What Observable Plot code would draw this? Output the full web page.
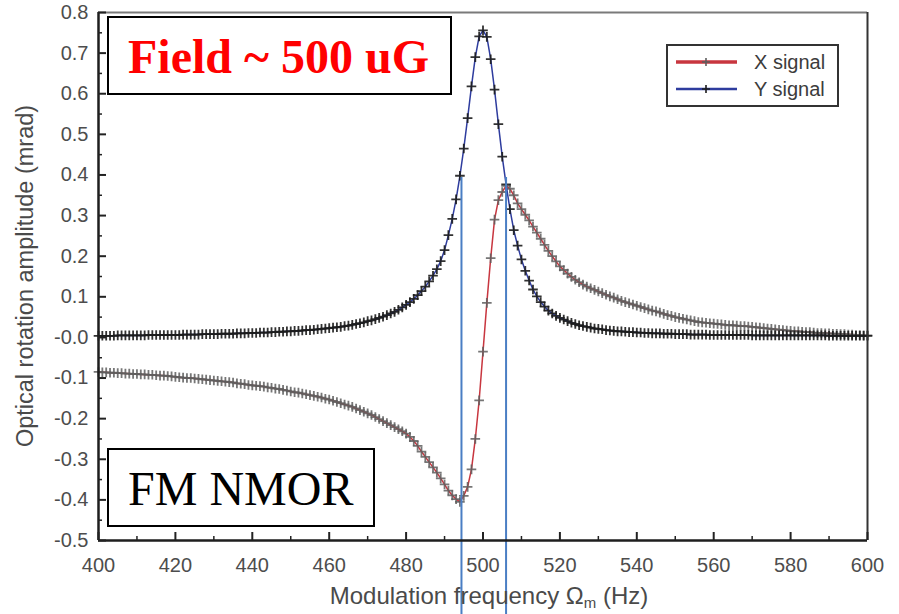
<!DOCTYPE html>
<html><head><meta charset="utf-8">
<script src="https://cdn.jsdelivr.net/npm/d3@7"></script>
<script src="https://cdn.jsdelivr.net/npm/@observablehq/plot@0.6"></script>
<style>
html,body{margin:0;padding:0;background:#fff;}
#wrap{position:relative;width:899px;height:614px;overflow:hidden;background:#fff;}
#wrap svg{position:absolute;left:0;top:0;}
.box{position:absolute;box-sizing:border-box;border:2px solid #000;background:#fff;}
.serif{position:absolute;font-family:"Liberation Serif","Times New Roman",serif;font-size:48px;line-height:48px;white-space:nowrap;}
.leg{position:absolute;box-sizing:border-box;border:2px solid #333;background:#fff;}
.legtxt{position:absolute;font-family:"Liberation Sans",Arial,sans-serif;font-size:20px;line-height:20px;color:#3c3c3c;white-space:nowrap;}
</style></head>
<body><div id="wrap"></div>
<script>
const freq = [400,401,402,403,404,405,406,407,408,409,410,411,412,413,414,415,416,417,418,419,
420,421,422,423,424,425,426,427,428,429,430,431,432,433,434,435,436,437,438,439,
440,441,442,443,444,445,446,447,448,449,450,451,452,453,454,455,456,457,458,459,
460,461,462,463,464,465,466,467,468,469,470,471,472,473,474,475,476,477,478,479,
480,481,482,483,484,485,486,487,488,489,490,491,492,493,494,495,496,497,498,499,
500,501,502,503,504,505,506,507,508,509,510,511,512,513,514,515,516,517,518,519,
520,521,522,523,524,525,526,527,528,529,530,531,532,533,534,535,536,537,538,539,
540,541,542,543,544,545,546,547,548,549,550,551,552,553,554,555,556,557,558,559,
560,561,562,563,564,565,566,567,568,569,570,571,572,573,574,575,576,577,578,579,
580,581,582,583,584,585,586,587,588,589,590,591,592,593,594,595,596,597,598,599,600];

const xSignal = [-0.085,-0.086,-0.086,-0.087,-0.087,-0.088,-0.088,-0.089,-0.089,-0.090,
-0.090,-0.091,-0.091,-0.092,-0.092,-0.093,-0.094,-0.094,-0.095,-0.096,
-0.097,-0.098,-0.099,-0.100,-0.100,-0.101,-0.102,-0.103,-0.104,-0.105,
-0.106,-0.107,-0.108,-0.109,-0.110,-0.111,-0.113,-0.114,-0.115,-0.117,
-0.118,-0.119,-0.120,-0.121,-0.123,-0.124,-0.126,-0.127,-0.129,-0.131,
-0.133,-0.135,-0.136,-0.138,-0.140,-0.142,-0.144,-0.146,-0.148,-0.151,
-0.153,-0.156,-0.159,-0.162,-0.165,-0.168,-0.171,-0.175,-0.179,-0.183,
-0.187,-0.191,-0.196,-0.201,-0.206,-0.211,-0.216,-0.221,-0.226,-0.231,
-0.237,-0.245,-0.255,-0.267,-0.281,-0.294,-0.307,-0.320,-0.333,-0.347,
-0.362,-0.377,-0.389,-0.398,-0.405,-0.390,-0.368,-0.325,-0.250,-0.155,
-0.035,0.085,0.195,0.290,0.338,0.358,0.373,0.366,0.350,0.330,
0.316,0.302,0.288,0.273,0.258,0.243,0.228,0.213,0.200,0.187,
0.175,0.166,0.157,0.149,0.142,0.136,0.130,0.125,0.121,0.117,
0.113,0.109,0.105,0.101,0.098,0.094,0.090,0.087,0.084,0.081,
0.078,0.075,0.072,0.069,0.066,0.064,0.061,0.058,0.055,0.053,
0.050,0.048,0.046,0.044,0.042,0.040,0.038,0.037,0.036,0.035,
0.034,0.033,0.032,0.031,0.030,0.030,0.029,0.028,0.028,0.027,
0.026,0.025,0.024,0.023,0.022,0.021,0.020,0.019,0.018,0.017,
0.016,0.015,0.015,0.014,0.013,0.013,0.012,0.011,0.011,0.010,
0.010,0.009,0.009,0.008,0.008,0.007,0.007,0.006,0.006,0.005,0.005];

const ySignal = [0.004,0.004,0.004,0.004,0.004,0.005,0.005,0.005,0.005,0.005,
0.005,0.005,0.005,0.006,0.006,0.006,0.006,0.006,0.006,0.006,
0.006,0.006,0.007,0.007,0.007,0.007,0.007,0.008,0.008,0.008,
0.008,0.008,0.009,0.009,0.009,0.009,0.010,0.010,0.010,0.011,
0.011,0.011,0.012,0.012,0.012,0.013,0.013,0.014,0.014,0.015,
0.015,0.016,0.016,0.017,0.018,0.018,0.019,0.020,0.021,0.022,
0.023,0.024,0.025,0.026,0.028,0.029,0.031,0.033,0.035,0.037,
0.040,0.042,0.045,0.048,0.051,0.055,0.059,0.063,0.068,0.074,
0.080,0.087,0.095,0.104,0.114,0.125,0.138,0.152,0.168,0.188,
0.215,0.252,0.292,0.340,0.398,0.465,0.540,0.618,0.690,0.741,
0.756,0.740,0.685,0.610,0.525,0.445,0.377,0.316,0.264,0.226,
0.192,0.164,0.140,0.118,0.101,0.087,0.076,0.066,0.059,0.053,
0.048,0.044,0.040,0.036,0.033,0.030,0.028,0.026,0.024,0.022,
0.021,0.020,0.018,0.017,0.016,0.015,0.015,0.014,0.013,0.013,
0.012,0.012,0.011,0.011,0.010,0.010,0.010,0.009,0.009,0.009,
0.008,0.008,0.008,0.008,0.007,0.007,0.007,0.007,0.007,0.006,
0.006,0.006,0.006,0.006,0.006,0.006,0.006,0.006,0.006,0.006,
0.005,0.005,0.005,0.005,0.005,0.005,0.005,0.005,0.005,0.005,
0.005,0.005,0.005,0.005,0.005,0.005,0.005,0.005,0.005,0.005,
0.004,0.004,0.004,0.004,0.004,0.004,0.004,0.004,0.004,0.004,0.004];

const xTicks = [400,420,440,460,480,500,520,540,560,580,600];
const xMinorTicks = [410,430,450,470,490,510,530,550,570,590];
const yTicks = [0.8,0.7,0.6,0.5,0.4,0.3,0.2,0.1,0,-0.1,-0.2,-0.3,-0.4,-0.5];
const yTickLabels = ["0.8","0.7","0.6","0.5","0.4","0.3","0.2","0.1","-0.0","-0.1","-0.2","-0.3","-0.4","-0.5"];
const yMinorTicks = [0.75,0.65,0.55,0.45,0.35,0.25,0.15,0.05,-0.05,-0.15,-0.25,-0.35,-0.45];
const guideFreqs = [494.4, 506.0];
const guideTop = 0.394;
const guideBottom = -2.4;
const seriesNames = ["X signal", "Y signal"];
const seriesColors = ["#c8363f", "#2e3c9e"];
const markerColors = ["#5e5e5e", "#1c1c1c"];
const xTitle = ["Modulation frequency Ω", "m", " (Hz)"];
const yTitle = "Optical rotation amplitude (mrad)";
const notes = ["Field ~ 500 uG", "FM NMOR"];

const xData = freq.map((f, i) => ({f, v: xSignal[i]}));
const yData = freq.map((f, i) => ({f, v: ySignal[i]}));
const labelOf = new Map(yTicks.map((t, i) => [t, yTickLabels[i]]));

const chart = Plot.plot({
  width: 899, height: 614,
  marginLeft: 98, marginRight: 32, marginTop: 12, marginBottom: 74,
  x: {domain: [400, 600]},
  y: {domain: [-0.5, 0.8]},
  style: {fontFamily: "'Liberation Sans', Arial, sans-serif", color: "#222", background: "transparent"},
  marks: [
    Plot.line(xData, {x: "f", y: "v", stroke: seriesColors[0], strokeWidth: 1.5}),
    Plot.dot(xData, {x: "f", y: "v", symbol: "plus", r: 3.2, stroke: markerColors[0], strokeWidth: 1.8, strokeOpacity: 0.85}),
    Plot.line(yData, {x: "f", y: "v", stroke: seriesColors[1], strokeWidth: 1.5}),
    Plot.dot(yData, {x: "f", y: "v", symbol: "plus", r: 3.2, stroke: markerColors[1], strokeWidth: 1.8, strokeOpacity: 0.9}),
    Plot.ruleX(guideFreqs, {y1: guideTop, y2: guideBottom, stroke: "#4a7ec4", strokeWidth: 2}),
    Plot.ruleY([0.8], {stroke: "#7a7a7a", strokeWidth: 2}),
    Plot.ruleX([600], {stroke: "#333", strokeWidth: 2}),
    Plot.ruleX([400], {stroke: "#1e1e1e", strokeWidth: 2.5}),
    Plot.ruleY([-0.5], {stroke: "#1e1e1e", strokeWidth: 2.5}),
    Plot.axisY(yTicks, {tickSize: 8, dx: 8, fill: "none", stroke: "#222", strokeWidth: 2, label: null}),
    Plot.axisY(yMinorTicks, {tickSize: 4, dx: 4, fill: "none", stroke: "#222", strokeWidth: 1.5, label: null}),
    Plot.axisX(xTicks, {tickSize: 8, dy: -8, fill: "none", stroke: "#222", strokeWidth: 2, label: null}),
    Plot.axisX(xMinorTicks, {tickSize: 4, dy: -4, fill: "none", stroke: "#222", strokeWidth: 1.5, label: null}),
    Plot.axisY(yTicks, {tickSize: 0, tickPadding: 10, tickFormat: d => labelOf.get(d), fontSize: 20, fill: "#4d4d4d", label: null}),
    Plot.axisX(xTicks, {tickSize: 0, tickPadding: 17, tickFormat: d => String(d), fontSize: 20, fill: "#4d4d4d", label: null})
  ]
});

const svg = d3.select(chart);
const xt = svg.append("text").attr("x", 489).attr("y", 604).attr("text-anchor", "middle")
  .attr("font-size", 24).attr("fill", "#4a4a4a");
xt.append("tspan").text(xTitle[0]);
xt.append("tspan").attr("font-size", 15).attr("dy", 4).text(xTitle[1]);
xt.append("tspan").attr("dy", -4).text(xTitle[2]);
svg.append("text").attr("transform", "translate(33,276) rotate(-90)").attr("text-anchor", "middle")
  .attr("font-size", 23.5).attr("fill", "#4a4a4a").text(yTitle);

const wrap = document.getElementById("wrap");
wrap.appendChild(chart);

function add(html) { wrap.insertAdjacentHTML("beforeend", html); }
// annotation boxes
add(`<div class="box" style="left:107px;top:16px;width:345px;height:79px"></div>`);
add(`<div class="serif" style="left:128px;top:33px;color:#ff0000;font-weight:bold">${notes[0]}</div>`);
add(`<div class="box" style="left:107px;top:448px;width:268px;height:79px"></div>`);
add(`<div class="serif" style="left:128px;top:465px;color:#000">${notes[1]}</div>`);
// legend
add(`<div class="leg" style="left:666px;top:44px;width:173px;height:63px"></div>`);
add(`<svg width="899" height="614" style="position:absolute;left:0;top:0;pointer-events:none">
  <line x1="676" x2="737" y1="62" y2="62" stroke="${seriesColors[0]}" stroke-width="3.5"/>
  <path d="M702,62h8M706,58v8" stroke="${markerColors[0]}" stroke-width="1.6"/>
  <line x1="676" x2="737" y1="89" y2="89" stroke="${seriesColors[1]}" stroke-width="2.5"/>
  <path d="M702,89h8M706,85v8" stroke="${markerColors[1]}" stroke-width="1.6"/>
</svg>`);
add(`<div class="legtxt" style="left:754px;top:52px">${seriesNames[0]}</div>`);
add(`<div class="legtxt" style="left:754px;top:79px">${seriesNames[1]}</div>`);
</script>
</body></html>
